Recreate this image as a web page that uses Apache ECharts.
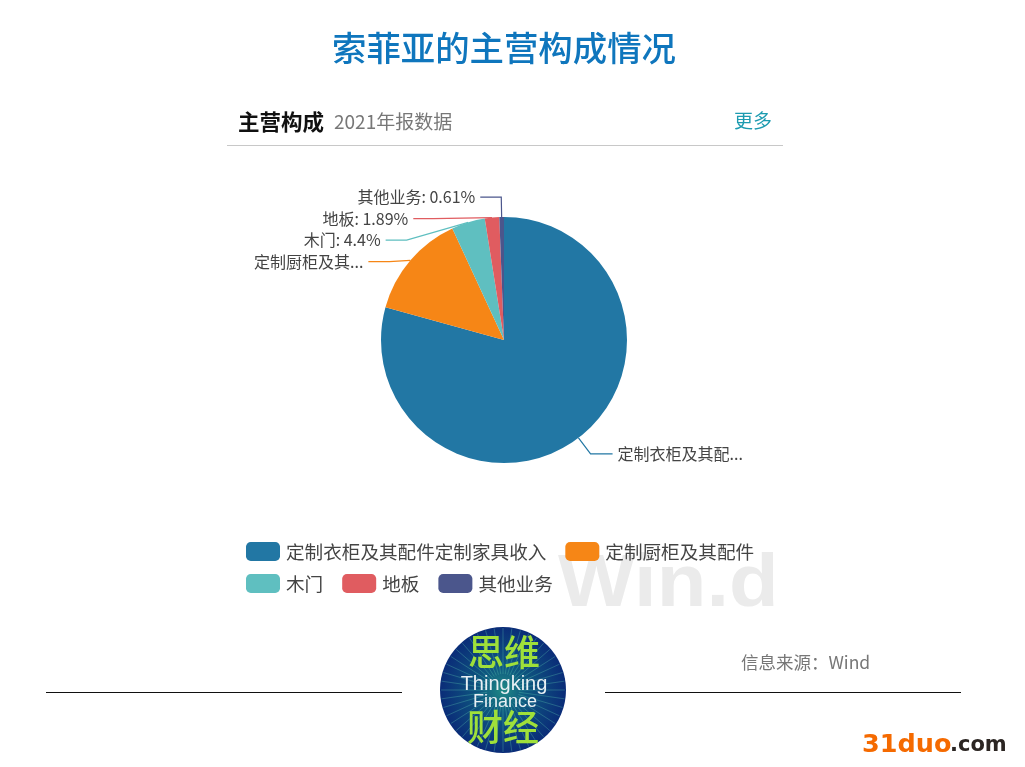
<!DOCTYPE html>
<html>
<head>
<meta charset="utf-8">
<title>索菲亚的主营构成情况</title>
<script src="https://cdn.jsdelivr.net/npm/echarts@6/dist/echarts.min.js"></script>
<style>
  html, body { margin: 0; padding: 0; background: #fff; }
  #main { width: 1025px; height: 767px; }
</style>
</head>
<body>
<div id="main"></div>
<script>
// 主营构成 2021年报
const categories = ["定制衣柜及其配件定制家具收入", "定制厨柜及其配件", "木门", "地板", "其他业务"];
const shares = [79.3, 13.8, 4.4, 1.89, 0.61];
const sliceLabels = ["定制衣柜及其配...", "定制厨柜及其...", "木门: 4.4%", "地板: 1.89%", "其他业务: 0.61%"];
const colors = ["#2277a4", "#f68616", "#5fbfc0", "#e05c60", "#4b568c"];
// 引导线第二段长度
const leaderTails = [22, 21, 21, 20, 21];

const font = '"Noto Sans CJK SC", "Noto Sans", sans-serif';

function txt(x, y, text, size, fill, extra) {
  return {
    type: "text",
    silent: true,
    style: Object.assign({
      x: x, y: y, text: text, fill: fill,
      font: size + "px " + font,
      textAlign: "left", textVerticalAlign: "middle"
    }, extra || {})
  };
}
function rule(x1, y1, x2, y2, color) {
  return { type: "line", silent: true, shape: { x1, y1, x2, y2 }, style: { stroke: color, lineWidth: 1 } };
}

// logo: 圆形底 + 放射线 + 文字
function logo(cx, cy, r) {
  const parts = [{
    type: "circle",
    silent: true,
    shape: { cx, cy, r },
    style: {
      fill: new echarts.graphic.RadialGradient(0.5, 0.5, 0.5, [
        { offset: 0, color: "#1f8a85" },
        { offset: 0.35, color: "#0f5a80" },
        { offset: 1, color: "#0a2c78" }
      ])
    }
  }];
  for (let i = 0; i < 44; i++) {
    const a = i / 44 * Math.PI * 2;
    parts.push({
      type: "line",
      silent: true,
      shape: {
        x1: cx + Math.cos(a) * 16, y1: cy + Math.sin(a) * 16,
        x2: cx + Math.cos(a) * (r - 1), y2: cy + Math.sin(a) * (r - 1)
      },
      style: { stroke: "rgba(95,200,175,0.4)", lineWidth: 0.8 }
    });
  }
  const latin = '"Liberation Sans", sans-serif';
  parts.push(txt(cx + 1, cy - 38, "思维", 36, "#9fe03a", { textAlign: "center", font: "500 36px " + font }));
  parts.push(txt(cx, cy + 37, "财经", 36, "#9fe03a", { textAlign: "center", font: "500 36px " + font }));
  parts.push(txt(cx + 1, cy - 6, "Thingking", 20, "#e8f0f4", { textAlign: "center", font: "20px " + latin }));
  parts.push(txt(cx + 2, cy + 12, "Finance", 18, "#e8f0f4", { textAlign: "center", font: "18px " + latin }));
  return parts;
}

const legendBase = {
  left: 241,
  width: 530,
  itemWidth: 34,
  itemHeight: 19,
  itemGap: 19,
  icon: "roundRect",
  textStyle: { color: "#444", fontSize: 18.6, padding: [0, 0, 0, 1] }
};

const chart = echarts.init(document.getElementById("main"), null, { renderer: "canvas" });

chart.setOption({
  animation: false,
  backgroundColor: "#fff",
  color: colors,
  textStyle: { fontFamily: font },
  title: {
    text: "索菲亚的主营构成情况",
    left: 327,
    top: 26,
    textStyle: { color: "#0f76bd", fontSize: 34.4, fontWeight: 500, fontFamily: font }
  },
  // 两行图例分开放，行距和项间距才能分别控制
  legend: [
    Object.assign({}, legendBase, { top: 537, data: categories.slice(0, 2) }),
    Object.assign({}, legendBase, { top: 569, data: categories.slice(2) })
  ],
  series: [{
    type: "pie",
    center: [504, 340],
    radius: [0, 123],
    startAngle: 90,
    clockwise: true,
    avoidLabelOverlap: true,
    label: {
      color: "#444",
      fontSize: 16,
      lineHeight: 19.5,
      formatter: p => sliceLabels[p.dataIndex]
    },
    labelLine: { length: 20, smooth: false, lineStyle: { width: 1.2 } },
    data: categories.map((name, i) => ({
      name,
      value: shares[i],
      labelLine: { length2: leaderTails[i] }
    }))
  }],
  graphic: {
    elements: [
      // 水印放在最底层
      Object.assign(txt(558, 586, "Win.d", 74, "#ebebeb", { font: 'bold 74px "Liberation Sans"' }), {
        z: -10, scaleX: 1.1, originX: 558, originY: 586
      }),
      txt(238, 122, "主营构成", 21.5, "#111", { font: "bold 21.5px " + font }),
      txt(334, 122, "2021年报数据", 19, "#777"),
      txt(734, 121, "更多", 19, "#1c9bb0"),
      rule(227, 145.5, 783, 145.5, "#c8c8c8"),
      txt(741, 662, "信息来源：Wind", 17.5, "#777"),
      rule(46, 692.5, 402, 692.5, "#111"),
      rule(605, 692.5, 961, 692.5, "#111"),
      ...logo(503, 690, 63),
      txt(862, 745, "31duo", 25.5, "#f56a00", { font: 'bold 25.5px "DejaVu Sans"' }),
      txt(950, 746, ".com", 21, "#2b2522", { font: 'bold 21px "DejaVu Sans"' })
    ]
  }
});
</script>
</body>
</html>
